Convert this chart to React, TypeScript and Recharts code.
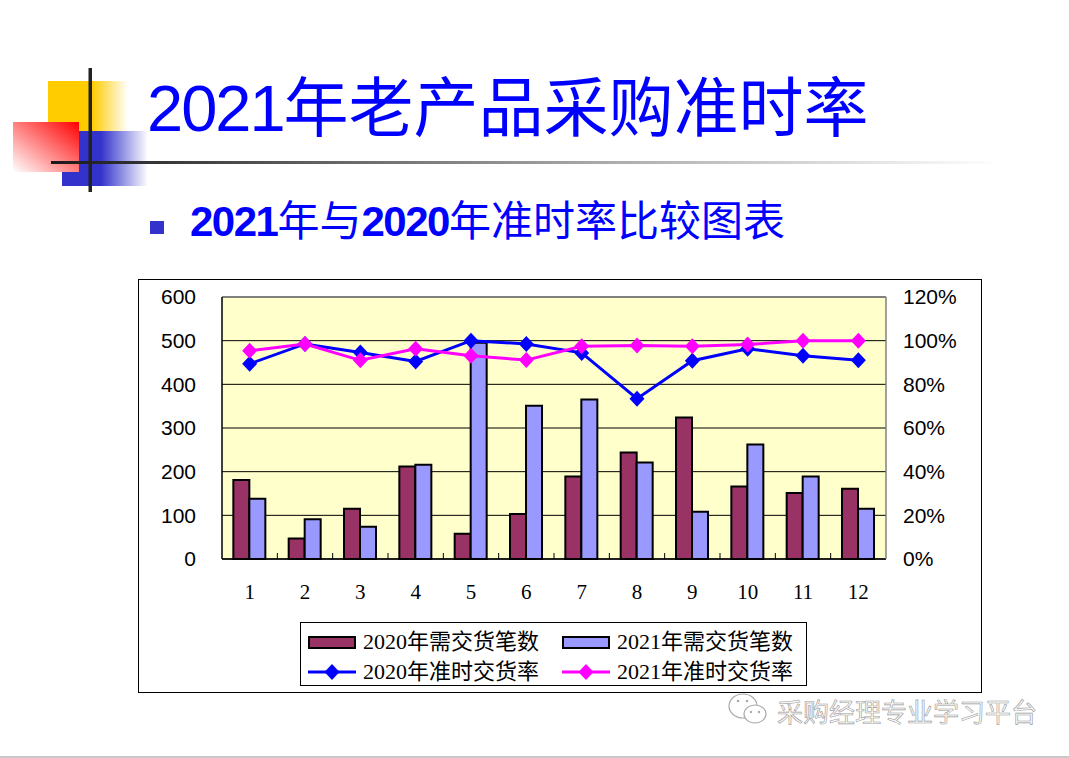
import {
  ComposedChart,
  Bar,
  Line,
  XAxis,
  YAxis,
  CartesianGrid,
  Legend,
  ReferenceLine,
} from 'recharts'

const months = ['1', '2', '3', '4', '5', '6', '7', '8', '9', '10', '11', '12']
const orders2020 = [181, 47, 115, 212, 58, 103, 189, 244, 324, 166, 151, 161]
const orders2021 = [138, 91, 74, 216, 495, 351, 365, 221, 108, 262, 189, 115]
const onTime2020 = [0.894, 0.985, 0.946, 0.905, 1.0, 0.985, 0.944, 0.734, 0.908, 0.963, 0.931, 0.91]
const onTime2021 = [0.954, 0.985, 0.91, 0.963, 0.931, 0.911, 0.974, 0.978, 0.974, 0.982, 1.0, 1.0]
const countTicks = [0, 100, 200, 300, 400, 500, 600]
const rateTicks = [0, 0.2, 0.4, 0.6, 0.8, 1.0, 1.2]
const seriesNames = ['2020年需交货笔数', '2021年需交货笔数', '2020年准时交货率', '2021年准时交货率']

const data = months.map((m, i) => ({
  month: m,
  c2020: orders2020[i],
  c2021: orders2021[i],
  r2020: onTime2020[i],
  r2021: onTime2021[i],
}))

const C = {
  maroon: '#993366',
  lilac: '#9999FF',
  blue: '#0000FF',
  pink: '#FF00FF',
  plot: '#FFFFCC',
  border: '#808080',
}

const CHART_W = 842
const CHART_H = 412
const LEFT_W = 83
const RIGHT_W = 95
const BAND = (CHART_W - LEFT_W - RIGHT_W) / months.length
const X_GAP = 25

const sans = '"Liberation Sans", Arial, "Noto Sans CJK SC", sans-serif'
const serif = '"Liberation Serif", "Times New Roman", "Noto Sans CJK SC", serif'
const cjk = '"Noto Sans CJK SC", "Noto Sans", sans-serif'

function Diamond({ cx, cy, fill }: { cx?: number; cy?: number; fill: string }) {
  if (cx == null || cy == null) return null
  const w = 7.5
  const h = 8
  return <polygon points={`${cx},${cy - h} ${cx + w},${cy} ${cx},${cy + h} ${cx - w},${cy}`} fill={fill} />
}

function MonthTick(props: any) {
  const { x, y, payload, index } = props
  const axisY = y - X_GAP
  return (
    <g>
      {index > 0 && (
        <line x1={x - BAND / 2} x2={x - BAND / 2} y1={axisY} y2={axisY - 6} stroke="#000" strokeWidth={1} />
      )}
      <text x={x} y={y} dy="0.71em" textAnchor="middle" fontSize={21} fontFamily={serif} fill="#000">
        {payload.value}
      </text>
    </g>
  )
}

function LegendBox() {
  const kinds = ['bar', 'bar', 'line', 'line']
  const colors = [C.maroon, C.lilac, C.blue, C.pink]
  return (
    <div
      style={{
        position: 'relative',
        width: 507,
        height: 64,
        border: '1px solid #000',
        boxSizing: 'border-box',
        background: '#fff',
      }}
    >
      {seriesNames.map((name, i) => {
        const col = i % 2
        const row = Math.floor(i / 2)
        return (
          <div
            key={name}
            style={{
              position: 'absolute',
              left: 7 + col * 254,
              top: 8 + row * 30,
              height: 22,
              display: 'flex',
              alignItems: 'center',
              whiteSpace: 'nowrap',
            }}
          >
            {kinds[i] === 'bar' ? (
              <div
                style={{
                  width: 48,
                  height: 13,
                  background: colors[i],
                  border: '2px solid #000',
                  boxSizing: 'border-box',
                }}
              />
            ) : (
              <svg width={48} height={18}>
                <line x1={0} x2={48} y1={9} y2={9} stroke={colors[i]} strokeWidth={3} />
                <Diamond cx={24} cy={9} fill={colors[i]} />
              </svg>
            )}
            <span style={{ marginLeft: 7, fontSize: 22, fontFamily: serif, color: '#000', lineHeight: '22px' }}>
              {name}
            </span>
          </div>
        )
      })}
    </div>
  )
}

function Slide() {
  return (
    <svg width={1069} height={758} style={{ position: 'absolute', left: 0, top: 0 }}>
      <defs>
        <linearGradient id="yel" x1="0" y1="0" x2="1" y2="0">
          <stop offset="0%" stopColor="#FFCC00" />
          <stop offset="55%" stopColor="#FFCC00" />
          <stop offset="100%" stopColor="#FFCC00" stopOpacity={0} />
        </linearGradient>
        <linearGradient id="blu" x1="0" y1="0" x2="1" y2="0">
          <stop offset="0%" stopColor="#3333CC" />
          <stop offset="45%" stopColor="#3333CC" />
          <stop offset="100%" stopColor="#3333CC" stopOpacity={0} />
        </linearGradient>
        <linearGradient id="red" x1="1" y1="0" x2="0" y2="1">
          <stop offset="0%" stopColor="#FF0000" />
          <stop offset="100%" stopColor="#FFFFFF" />
        </linearGradient>
        <linearGradient id="rule" x1="0" y1="0" x2="1" y2="0">
          <stop offset="0%" stopColor="#1a1a1a" />
          <stop offset="10%" stopColor="#333" />
          <stop offset="30%" stopColor="#666" />
          <stop offset="58%" stopColor="#aaa" />
          <stop offset="100%" stopColor="#fff" />
        </linearGradient>
      </defs>
      <rect x={48} y={81} width={80} height={50} fill="url(#yel)" />
      <rect x={62} y={131} width={86} height={55} fill="url(#blu)" />
      <rect x={13} y={122} width={66} height={50} fill="url(#red)" />
      <rect x={51} y={161} width={950} height={3} fill="url(#rule)" />
      <rect x={88.5} y={68} width={3.5} height={124} fill="#222" />

      <text x={147} y={131} fontSize={65} fill="#0000FF">
        <tspan fontFamily={sans} letterSpacing={-2}>2021</tspan>
        <tspan fontFamily={cjk}>年老产品采购准时率</tspan>
      </text>

      <rect x={150} y={221} width={14} height={13} fill="#3333CC" />
      <text x={190} y={236} fontSize={42} fill="#0000FF">
        <tspan fontFamily={sans} fontWeight="bold" letterSpacing={-1.5}>2021</tspan>
        <tspan fontFamily={cjk}>年与</tspan>
        <tspan fontFamily={sans} fontWeight="bold" letterSpacing={-1.5}>2020</tspan>
        <tspan fontFamily={cjk}>年准时率比较图表</tspan>
      </text>

      <ellipse cx={743} cy={706} rx={14} ry={12} fill="#fff" stroke="#aaa" strokeWidth={1.2} />
      <ellipse cx={755} cy={714} rx={11} ry={9} fill="#fff" stroke="#aaa" strokeWidth={1.2} />
      <circle cx={738} cy={701} r={1.3} fill="#aaa" />
      <circle cx={747} cy={701} r={1.3} fill="#aaa" />
      <circle cx={751} cy={712} r={1.2} fill="#aaa" />
      <circle cx={759} cy={712} r={1.2} fill="#aaa" />
      <text x={777} y={722} fontSize={26} fontFamily={cjk} fill="#fafafa" stroke="#9a9a9a" strokeWidth={0.6}>
        采购经理专业学习平台
      </text>
      <rect x={0} y={756} width={1069} height={2} fill="#c8c8c8" />
    </svg>
  )
}

export default function App() {
  return (
    <div style={{ position: 'absolute', left: 0, top: 0, width: 1069, height: 758, background: '#fff', overflow: 'hidden' }}>
      <Slide />
      <div
        style={{
          position: 'absolute',
          left: 138,
          top: 279,
          width: CHART_W + 2,
          height: CHART_H + 2,
          border: '1px solid #000',
          boxSizing: 'border-box',
          background: '#fff',
        }}
      >
        <ComposedChart
          width={CHART_W}
          height={CHART_H}
          data={data}
          margin={{ top: 17, right: 0, bottom: 0, left: 0 }}
          barCategoryGap="20.5%"
          barGap={0}
        >
          <CartesianGrid yAxisId="count" vertical={false} stroke="#000" fill={C.plot} fillOpacity={1} />
          <XAxis
            dataKey="month"
            height={CHART_H - 17 - 262}
            axisLine={{ stroke: '#000', strokeWidth: 1.5 }}
            tickLine={false}
            tickSize={0}
            tickMargin={X_GAP}
            tick={<MonthTick />}
            interval={0}
          />
          <YAxis
            yAxisId="count"
            width={LEFT_W}
            domain={[0, 600]}
            ticks={countTicks}
            axisLine={{ stroke: '#000', strokeWidth: 1.5 }}
            tickLine={false}
            tickSize={0}
            tickMargin={26}
            tick={{ fontSize: 21, fill: '#000', fontFamily: sans }}
          />
          <YAxis
            yAxisId="rate"
            orientation="right"
            width={RIGHT_W}
            domain={[0, 1.2]}
            ticks={rateTicks}
            tickFormatter={(v: number) => `${Math.round(v * 100)}%`}
            axisLine={{ stroke: C.border, strokeWidth: 1.5 }}
            tickLine={false}
            tickSize={0}
            tickMargin={17}
            tick={{ fontSize: 21, fill: '#000', fontFamily: sans, textAnchor: 'start' }}
          />
          <ReferenceLine yAxisId="count" y={600} stroke={C.border} strokeWidth={1.5} />
          <Bar yAxisId="count" dataKey="c2020" name={seriesNames[0]} fill={C.maroon} stroke="#000" strokeWidth={2} isAnimationActive={false} />
          <Bar yAxisId="count" dataKey="c2021" name={seriesNames[1]} fill={C.lilac} stroke="#000" strokeWidth={2} isAnimationActive={false} />
          <Line
            yAxisId="rate"
            dataKey="r2020"
            name={seriesNames[2]}
            stroke={C.blue}
            strokeWidth={3}
            dot={(p: any) => <Diamond key={`b${p.index}`} cx={p.cx} cy={p.cy} fill={C.blue} />}
            activeDot={false}
            isAnimationActive={false}
          />
          <Line
            yAxisId="rate"
            dataKey="r2021"
            name={seriesNames[3]}
            stroke={C.pink}
            strokeWidth={3}
            dot={(p: any) => <Diamond key={`p${p.index}`} cx={p.cx} cy={p.cy} fill={C.pink} />}
            activeDot={false}
            isAnimationActive={false}
          />
          <Legend
            verticalAlign="middle"
            align="center"
            layout="horizontal"
            wrapperStyle={{ left: 161, top: 342, width: 507, height: 64 }}
            content={<LegendBox />}
          />
        </ComposedChart>
      </div>
    </div>
  )
}
